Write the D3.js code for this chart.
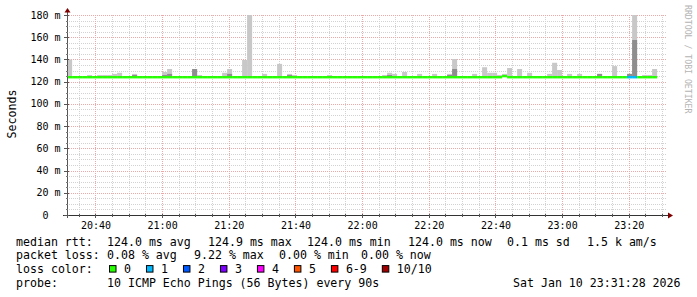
<!DOCTYPE html>
<html lang="en">
<head>
<meta charset="UTF-8">
<title>SmokePing - median rtt</title>
<script src="https://d3js.org/d3.v7.min.js"></script>
<style>
    body { margin: 0; background: #fff; }
    svg text { font-family: "DejaVu Sans Mono", monospace; fill: #000; }
    .tick-label { font-size: 10px; }
    .legend { font-size: 11.6px; white-space: pre; }
    .brand { font-size: 8.2px; fill: #b4b4b4; }
</style>
</head>
<body>
<div id="chart"></div>

<script>
    // one sample every 90s, first one at 20:31:30
    var smokeHi = [
        140, 124, 124, 124, 126, 124, 126, 126, 126, 127,
        128, 124, 125, 127, 124, 125, 125, 124, 124, 128.7,
        131.4, 124, 125, 125, 124, 131.4, 126, 125, 124, 124,
        125, 128, 131.4, 124, 124, 139.5, 195, 124, 125, 127,
        124, 124, 136, 124, 127, 126, 124, 125, 124, 124,
        124, 124, 126, 125, 124, 124, 125, 125, 124, 125,
        125, 124, 124, 126, 128, 127, 124, 128.7, 124, 124,
        127, 124, 124, 127, 124, 124, 127, 140.4, 124, 124,
        124, 127, 124, 133, 128, 128, 126, 127, 132.3, 124,
        131.4, 124, 128, 125, 125, 124, 127, 137, 130.5, 124,
        127, 124, 127, 124, 124, 124, 127, 124, 124, 134,
        125, 124, 127, 195, 124, 126, 126, 131.4
    ];
    var smokeMid = [
        124, 124, 124, 124, 124, 124, 124, 125, 125, 124,
        124, 124, 125, 126, 124, 124, 124, 124, 124, 126,
        127, 124, 124, 124, 124, 131.4, 124, 124, 124, 124,
        124, 124, 127, 124, 124, 124, 124, 124, 124, 124,
        124, 124, 124, 124, 126, 125, 124, 124, 124, 124,
        124, 124, 125, 125, 124, 124, 124, 124, 124, 124,
        124, 124, 124, 124, 126, 125, 124, 124, 124, 124,
        124, 124, 124, 124, 124, 124, 126, 131.4, 124, 124,
        124, 124, 124, 125, 124, 124, 125, 124, 124, 124,
        124, 124, 124, 125, 125, 124, 124, 124, 124, 124,
        124, 124, 124, 124, 124, 124, 127, 124, 124, 124,
        124, 124, 127, 157.5, 124, 124, 124, 124
    ];
    var median = [
        124, 124, 124, 124, 124, 124, 124, 124, 124, 124,
        124, 124, 124, 124, 124, 124, 124, 124, 124, 124,
        124, 124, 124, 124, 124, 124, 124, 124, 124, 124,
        124, 124, 124, 124, 124, 124, 124, 124, 124, 124,
        124, 124, 124, 124, 124, 124, 124, 124, 124, 124,
        124, 124, 124, 124, 124, 124, 124, 124, 124, 124,
        124, 124, 124, 124, 124, 124, 124, 124, 124, 124,
        124, 124, 124, 124, 124, 124, 124, 124, 124, 124,
        124, 124, 124, 124, 124, 124, 124, 125, 124, 124,
        124, 124, 124, 124, 124, 124, 124, 124, 124, 124,
        124, 124, 124, 124, 124, 124, 124, 124, 124, 124,
        124, 124, 124, 124, 124, 124, 124, 124
    ];
    // lost pings out of 10 per sample
    var loss = [
        0,0,0,0,0,0,0,0,0,0, 0,0,0,0,0,0,0,0,0,0,
        0,0,0,0,0,0,0,0,0,0, 0,0,0,0,0,0,0,0,0,0,
        0,0,0,0,0,0,0,0,0,0, 0,0,0,0,0,0,0,0,0,0,
        0,0,0,0,0,0,0,0,0,0, 0,0,0,0,0,0,0,0,0,0,
        0,0,0,0,0,0,0,0,0,0, 0,0,0,0,0,0,0,0,0,0,
        0,0,0,0,0,0,0,0,0,0, 0,0,1,1,0,0,0,0
    ];

    var lossLabels = ["0", "1", "2", "3", "4", "5", "6-9", "10/10"];
    var lossColors = ["#26ff00", "#00b8ff", "#0059ff", "#7e00ff", "#ff00ff", "#ff5500", "#ff0000", "#a10000"];
    var rttStats = ["124.0 ms avg", "124.9 ms max", "124.0 ms min", "124.0 ms now", "0.1 ms sd", "1.5 k am/s"];
    var lossStats = ["0.08 % avg", "9.22 % max", "0.00 % min", "0.00 % now"];
    var probeText = "10 ICMP Echo Pings (56 Bytes) every 90s";
    var stampText = "Sat Jan 10 23:31:28 2026";

    var tStart = new Date(2026, 0, 10, 20, 31, 28),
        tEnd = new Date(2026, 0, 10, 23, 31, 28),
        firstSample = new Date(2026, 0, 10, 20, 31, 30),
        stepMs = 90 * 1000;

    var pLeft = 67, pRight = 667, pTop = 15, pBottom = 215;

    var x = d3.scaleTime().domain([tStart, tEnd]).range([pLeft, pRight]);
    var y = d3.scaleLinear().domain([0, 180]).range([pBottom, pTop]);

    var svg = d3.select("#chart").append("svg")
        .attr("width", 697)
        .attr("height", 297);

    svg.append("rect").attr("width", 697).attr("height", 297).attr("fill", "#fff");

    svg.append("defs").append("clipPath").attr("id", "plot")
      .append("rect")
        .attr("x", pLeft).attr("y", pTop)
        .attr("width", pRight - pLeft).attr("height", pBottom - pTop);

    function py(d) { return Math.round(y(d)) + 0.5; }
    function px(d) { return Math.round(x(d)) + 0.5; }

    // grid
    var grid = svg.append("g").attr("stroke-dasharray", "1,1").attr("stroke-width", 1);

    var yMinor = d3.range(0, 181, 5).filter(function(v) { return v % 20 !== 0; });
    var yMajor = d3.range(0, 181, 20);
    var xMinor = d3.timeMinute.every(5).range(tStart, tEnd);
    var xMajor = d3.timeMinute.every(20).range(tStart, tEnd);

    grid.selectAll(".ymin").data(yMinor).enter().append("line")
        .attr("x1", pLeft).attr("x2", pRight)
        .attr("y1", py).attr("y2", py)
        .attr("stroke", "#d2d2d2");

    grid.selectAll(".xmin").data(xMinor.filter(function(d) { return d.getMinutes() % 20 !== 0; }))
      .enter().append("line")
        .attr("x1", px).attr("x2", px)
        .attr("y1", pTop).attr("y2", pBottom)
        .attr("stroke", "#d2d2d2");

    grid.selectAll(".ymaj").data(yMajor.slice(1)).enter().append("line")
        .attr("x1", pLeft).attr("x2", pRight)
        .attr("y1", py).attr("y2", py)
        .attr("stroke", "#eba9a9");

    grid.selectAll(".xmaj").data(xMajor).enter().append("line")
        .attr("x1", px).attr("x2", px)
        .attr("y1", pTop).attr("y2", pBottom)
        .attr("stroke", "#eba9a9");

    // smoke
    var samples = smokeHi.map(function(hi, i) {
        var t0 = new Date(+firstSample + i * stepMs);
        return { t0: t0, t1: new Date(+t0 + stepMs), hi: hi, mid: smokeMid[i], med: median[i], loss: loss[i] };
    });

    var smoke = svg.append("g").attr("clip-path", "url(#plot)");

    smoke.selectAll(".hi").data(samples.filter(function(d) { return d.hi > d.med; }))
      .enter().append("rect")
        .attr("x", function(d) { return x(d.t0); })
        .attr("width", function(d) { return x(d.t1) - x(d.t0); })
        .attr("y", function(d) { return y(d.hi); })
        .attr("height", function(d) { return y(d.med) - y(d.hi); })
        .attr("fill", "#c8c8c8");

    smoke.selectAll(".mid").data(samples.filter(function(d) { return d.mid > d.med; }))
      .enter().append("rect")
        .attr("x", function(d) { return x(d.t0); })
        .attr("width", function(d) { return x(d.t1) - x(d.t0); })
        .attr("y", function(d) { return y(d.mid); })
        .attr("height", function(d) { return y(d.med) - y(d.mid); })
        .attr("fill", "#8e8e8e");

    // median line, coloured by loss
    smoke.selectAll(".med").data(samples).enter().append("line")
        .attr("x1", function(d) { return x(d.t0); })
        .attr("x2", function(d) { return x(d.t1); })
        .attr("y1", function(d) { return y(d.med); })
        .attr("y2", function(d) { return y(d.med); })
        .attr("stroke", function(d) {
            var k = d.loss >= 10 ? 7 : (d.loss >= 6 ? 6 : d.loss);
            return lossColors[k];
        })
        .attr("stroke-width", 2.4);

    // axes
    var axis = svg.append("g");
    axis.append("line").attr("x1", pLeft + 0.5).attr("x2", pLeft + 0.5)
        .attr("y1", pBottom + 3).attr("y2", 11).attr("stroke", "#555");
    axis.append("line").attr("x1", pLeft - 4).attr("x2", pRight + 2)
        .attr("y1", pBottom + 0.5).attr("y2", pBottom + 0.5).attr("stroke", "#333");

    axis.selectAll(".yt").data(yMajor).enter().append("line")
        .attr("x1", pLeft - 3).attr("x2", pLeft + 2)
        .attr("y1", py).attr("y2", py)
        .attr("stroke", "#555");
    axis.selectAll(".ytm").data(yMinor).enter().append("line")
        .attr("x1", pLeft - 1).attr("x2", pLeft + 1)
        .attr("y1", py).attr("y2", py)
        .attr("stroke", "#777");
    axis.selectAll(".xt").data(xMinor).enter().append("line")
        .attr("x1", px).attr("x2", px)
        .attr("y1", pBottom - 1)
        .attr("y2", function(d) { return d.getMinutes() % 20 === 0 ? pBottom + 3 : pBottom + 2; })
        .attr("stroke", "#555");

    // arrows
    axis.append("path")
        .attr("d", "M" + (pLeft - 2.5) + ",12.5L" + (pLeft + 3.5) + ",12.5L" + (pLeft + 0.5) + ",8Z")
        .attr("fill", "#7f0000");
    axis.append("path")
        .attr("d", "M" + (pRight + 1) + "," + (pBottom - 2.5) + "L" + (pRight + 1) + "," + (pBottom + 3.5) + "L" + (pRight + 6) + "," + (pBottom + 0.5) + "Z")
        .attr("fill", "#7f0000");

    // tick labels
    var fmt = d3.timeFormat("%H:%M");
    svg.selectAll(".xl").data(xMajor).enter().append("text")
        .attr("class", "tick-label")
        .attr("x", function(d) { return x(d) + 0.5; })
        .attr("y", 228.6)
        .attr("text-anchor", "middle")
        .text(fmt);

    svg.selectAll(".yl").data(yMajor).enter().append("text")
        .attr("class", "tick-label")
        .attr("x", 48.6)
        .attr("y", function(d) { return y(d) + 3.6; })
        .attr("text-anchor", "end")
        .text(function(d) { return d; });
    svg.selectAll(".yu").data(yMajor.slice(1)).enter().append("text")
        .attr("class", "tick-label")
        .attr("x", 54.6)
        .attr("y", function(d) { return y(d) + 3.6; })
        .text("m");

    svg.append("text")
        .attr("class", "legend")
        .attr("transform", "translate(15.5,114) rotate(-90)")
        .attr("text-anchor", "middle")
        .text("Seconds");

    svg.append("text")
        .attr("class", "brand")
        .attr("transform", "translate(685,5) rotate(90)")
        .text("RRDTOOL / TOBI OETIKER");

    // legend
    var rows = [245.5, 259.3, 273.1, 286.9];
    var leg = svg.append("g").attr("class", "legend");

    function put(txt, tx, ty) {
        leg.append("text").attr("class", "legend").attr("x", tx).attr("y", ty).text(txt);
    }

    put("median rtt:", 16, rows[0]);
    [107, 208, 307, 408, 507, 587].forEach(function(tx, i) { put(rttStats[i], tx, rows[0]); });

    put("packet loss:", 16, rows[1]);
    [107, 194, 279, 361].forEach(function(tx, i) { put(lossStats[i], tx, rows[1]); });

    put("loss color:", 16, rows[2]);
    var cw = 6.98, bx = 109;
    lossLabels.forEach(function(lbl, i) {
        leg.append("rect")
            .attr("x", bx + 0.5).attr("y", rows[2] - 7.5)
            .attr("width", 6.5).attr("height", 6.5)
            .attr("fill", lossColors[i])
            .attr("stroke", "#000").attr("stroke-width", 1);
        put(lbl, bx + 15, rows[2]);
        bx = bx + 15 + lbl.length * cw + 15;
    });

    put("probe:", 16, rows[3]);
    put(probeText, 107, rows[3]);
    put(stampText, 513, rows[3]);
</script>
</body>
</html>
